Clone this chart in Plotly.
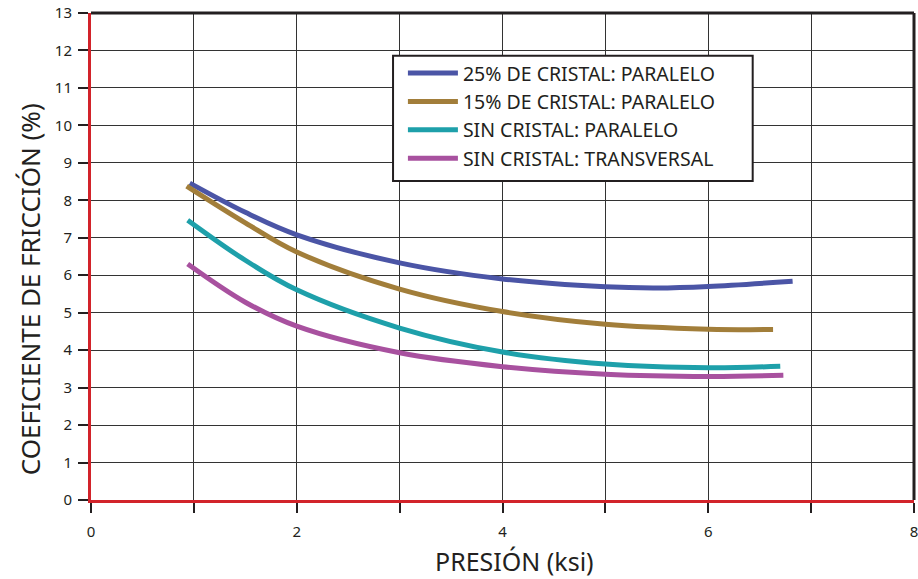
import plotly.graph_objects as go

presion_25 = [0.96, 1.5, 2.0, 3.0, 4.0, 5.0, 5.5, 6.0, 6.82]
friccion_25 = [8.46, 7.68, 7.08, 6.33, 5.90, 5.69, 5.66, 5.70, 5.84]

presion_15 = [0.93, 1.5, 2.0, 3.0, 4.0, 5.0, 6.0, 6.63]
friccion_15 = [8.38, 7.40, 6.62, 5.63, 5.03, 4.69, 4.56, 4.55]

presion_sp = [0.94, 1.5, 2.0, 3.0, 4.0, 5.0, 6.0, 6.70]
friccion_sp = [7.47, 6.40, 5.61, 4.59, 3.95, 3.63, 3.53, 3.57]

presion_st = [0.94, 1.5, 2.0, 3.0, 4.0, 5.0, 6.0, 6.73]
friccion_st = [6.30, 5.28, 4.64, 3.93, 3.56, 3.36, 3.30, 3.33]

names = ["25% DE CRISTAL: PARALELO", "15% DE CRISTAL: PARALELO",
         "SIN CRISTAL: PARALELO", "SIN CRISTAL: TRANSVERSAL"]
colors = ["#4b55a6", "#a27e3a", "#1ea0aa", "#a8519f"]

x_tickvals = [0, 1, 2, 3, 4, 5, 6, 7, 8]
x_ticktext = ["0", "", "2", "", "4", "", "6", "", "8"]
y_tickvals = list(range(0, 14))

fig = go.Figure()
for xs, ys, n, c in zip([presion_25, presion_15, presion_sp, presion_st],
                        [friccion_25, friccion_15, friccion_sp, friccion_st],
                        names, colors):
    fig.add_trace(go.Scatter(x=xs, y=ys, name=n, mode="lines",
                             line=dict(color=c, width=5, shape="spline", smoothing=1.0)))

font = "Noto Sans"
ink = "#231f20"
fig.update_layout(
    width=918, height=579,
    margin=dict(l=91, r=4, t=13, b=79, autoexpand=False),
    plot_bgcolor="white", paper_bgcolor="white",
    font=dict(family=font, color=ink),
    legend=dict(x=0.379, y=0.916, xanchor="left", yanchor="top",
                borderwidth=0, bgcolor="rgba(0,0,0,0)",
                font=dict(size=19.5, family=font, color=ink),
                tracegroupgap=0, itemwidth=50),
    xaxis=dict(range=[0, 8], tickvals=x_tickvals, ticktext=x_ticktext,
               showgrid=True, gridcolor="#333333", gridwidth=1.4,
               showline=True, linecolor="#d2232a", linewidth=3,
               ticks="outside", ticklen=10, tickwidth=2, tickcolor=ink,
               tickfont=dict(size=15, color=ink), zeroline=False,
               ticklabeloverflow="allow", automargin=False, ticklabelstandoff=6),
    yaxis=dict(range=[0, 13], tickvals=y_tickvals,
               showgrid=True, gridcolor="#333333", gridwidth=1.4,
               showline=True, linecolor="#d2232a", linewidth=3,
               ticks="outside", ticklen=10, tickwidth=2, tickcolor=ink,
               tickfont=dict(size=15, color=ink), zeroline=False,
               ticklabeloverflow="allow", automargin=False, ticklabelstandoff=3),
)
# legend frame
fig.add_shape(type="rect", xref="paper", yref="paper", x0=0.367, x1=0.804, y0=0.655, y1=0.912,
              line=dict(color=ink, width=2), fillcolor="white", layer="above")
# top and right borders
fig.add_shape(type="line", xref="paper", yref="paper", x0=0, x1=1, y0=1, y1=1,
              line=dict(color=ink, width=3))
fig.add_shape(type="line", xref="paper", yref="paper", x0=1, x1=1, y0=0, y1=1,
              line=dict(color=ink, width=3))
# axis titles
fig.add_annotation(text="PRESIÓN (ksi)", xref="paper", yref="paper", x=0.514, y=-0.125,
                   showarrow=False, font=dict(size=25, color=ink), xanchor="center", yanchor="middle")
fig.add_annotation(text="COEFICIENTE DE FRICCIÓN (%)", xref="paper", yref="paper", x=-0.074, y=0.433,
                   showarrow=False, textangle=-90, font=dict(size=26, color=ink),
                   xanchor="center", yanchor="middle")
fig.write_html("out.html")
